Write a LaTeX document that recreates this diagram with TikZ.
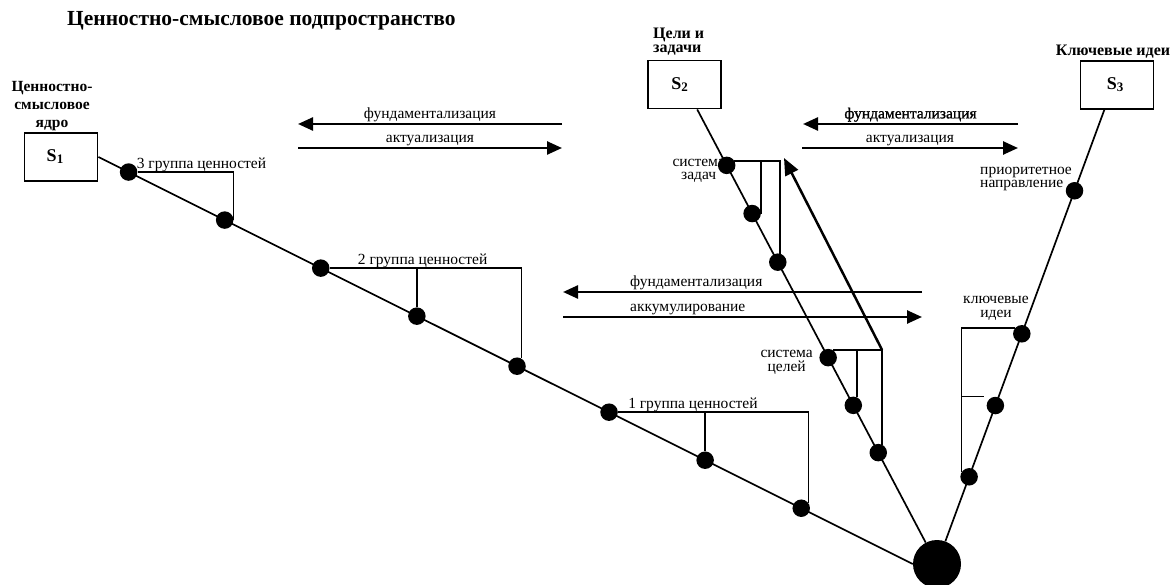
\documentclass[tikz,border=0pt]{standalone}
\usepackage{fontspec}
\setmainfont{Liberation Serif}
\newfontfamily\thickserif[FakeBold=1.2]{Liberation Serif}
\usetikzlibrary{calc, arrows.meta}

\newcommand{\sidx}[1]{\raisebox{-2pt}{\fontsize{13}{13}\selectfont #1}}

\tikzset{
  vdot/.style={circle, fill=black, inner sep=0pt, minimum size=17.5pt},
  hub/.style={circle, fill=black, inner sep=0pt, minimum size=48pt},
  sbox/.style={draw, line width=1.9pt, minimum width=73pt, minimum height=48pt, inner sep=0pt, font=\bfseries\fontsize{18}{18}\selectfont},
  lbl/.style={inner sep=0pt, font=\fontsize{15.5}{13.5}\selectfont},
  capt/.style={inner sep=0pt, align=center, font=\bfseries\fontsize{15.5}{18}\selectfont},
  mainline/.style={line width=1.7pt},
  flow/.style={line width=2.5pt, -{Triangle[length=15pt, width=13pt]}},
}

\begin{document}
\begin{tikzpicture}[x=1pt, y=-1pt]
    % --- Frame (pixel grid, y down) ---
    \fill[white] (0,0) rectangle (1173,585);
    \useasboundingbox (0,0) rectangle (1173,585);

    % --- Boxes and hub ---
    \node[sbox] (s1) at (61,157) {S\sidx{1}\kern12pt};
    \node[sbox] (s2) at (684.5,84.5) {S\sidx{2}\kern10pt};
    \node[sbox] (s3) at (1117,85) {S\sidx{3}\kern4pt};
    \node[hub] (hub) at (937,564) {};

    % --- Captions ---
    \node[anchor=west, inner sep=0pt, font=\bfseries\fontsize{21.5}{21.5}\selectfont] (title) at (67,21) {Ценностно-смысловое подпространство};
    \node[capt] (c1) at (52,106) {Ценностно-\\смысловое\\ядро};
    \node[capt, align=left, anchor=west, font=\bfseries\fontsize{16}{14}\selectfont] (c2) at (653,42) {Цели и\\задачи};
    \node[capt, font=\bfseries\fontsize{16}{16}\selectfont] (c3) at (1113,52) {Ключевые идеи};

    % --- Branch 1: S1 to hub ---
    \draw[mainline] (s1.east) -- (hub.west);
    \node[vdot] (a1) at ($(s1.east)!.037!(hub.west)$) {};
    \node[vdot] (a2) at ($(s1.east)!.155!(hub.west)$) {};
    \node[vdot] (a3) at ($(s1.east)!.273!(hub.west)$) {};
    \node[vdot] (a4) at ($(s1.east)!.391!(hub.west)$) {};
    \node[vdot] (a5) at ($(s1.east)!.514!(hub.west)$) {};
    \node[vdot] (a6) at ($(s1.east)!.627!(hub.west)$) {};
    \node[vdot] (a7) at ($(s1.east)!.745!(hub.west)$) {};
    \node[vdot] (a8) at ($(s1.east)!.863!(hub.west)$) {};

    % value groups
    \draw[mainline] (a1) -| (a2.east);
    \draw[mainline] (a3) -| (a5.60);
    \draw[mainline] (a4.north |- a3) -- (a4.north);
    \draw[mainline] (a6) -| (a8.35);
    \draw[mainline] (a7.north |- a6) -- (a7.north);

    \node[lbl, anchor=base west] (v3) at ($(a1)+(8,-4)$) {3 группа ценностей};
    \node[lbl, anchor=base west] (v2) at ($(a3)+(37,-4)$) {2 группа ценностей};
    \node[lbl, anchor=base west] (v1) at ($(a6)+(19,-4)$) {1 группа ценностей};

    % --- Branch 2: S2 to hub ---
    \draw[mainline] (s2.-63) -- (hub);
    \node[vdot] (b1) at ($(s2.-63)!.123!(hub)$) {};
    \node[vdot] (b2) at ($(s2.-63)!.229!(hub)$) {};
    \node[vdot] (b3) at ($(s2.-63)!.336!(hub)$) {};
    \node[vdot] (b4) at ($(s2.-63)!.546!(hub)$) {};
    \node[vdot] (b5) at ($(s2.-63)!.651!(hub)$) {};
    \node[vdot] (b6) at ($(s2.-63)!.755!(hub)$) {};

    \draw[mainline] (b1.30) -| (b3.75);
    \draw[mainline] (b2.east |- b1.30) -- (b2.east);
    \coordinate (bk) at (b4.60 -| b6.65);
    \coordinate (tip) at (784,158);
    \draw[mainline] (b4.60) -- (bk) -- (b6.65);
    \draw[mainline] (b5.65 |- bk) -- (b5.65);
    \draw[flow, -{Triangle[length=17pt, width=14pt]}] (bk) -- (tip);

    \node[lbl, align=center, anchor=east] (t1) at (725,171) {система\\задач};
    \node[lbl, align=center, anchor=east] (t2) at (813,362.5) {система\\целей};

    % --- Branch 3: S3 to hub ---
    \draw[mainline] (s3.-117) -- (hub);
    \node[vdot] (g1) at ($(s3.-117)!.178!(hub)$) {};
    \node[vdot] (g2) at ($(s3.-117)!.493!(hub)$) {};
    \node[vdot] (g3) at ($(s3.-117)!.651!(hub)$) {};
    \node[vdot] (g4) at ($(s3.-117)!.808!(hub)$) {};

    \draw[mainline] (g2.140) -| (g4.150);
    \draw[mainline] (g4.150 |- g3.north) -- ($(g3.north)+(-11,0)$);

    \node[lbl, align=left, anchor=west] (k1) at (980,179) {приоритетное\\направление};
    \node[lbl, align=center] (k2) at (996,308.5) {ключевые\\идеи};

    % --- Flow arrows ---
    \coordinate (p1l) at (298,124);  \coordinate (p1r) at (562,124);
    \coordinate (q1l) at (298,148);  \coordinate (q1r) at (562,148);
    \coordinate (p2l) at (803,124);  \coordinate (p2r) at (1018,124);
    \coordinate (q2l) at (802,148);  \coordinate (q2r) at (1018,148);
    \coordinate (p3l) at (563,292);  \coordinate (p3r) at (922,292);
    \coordinate (q3l) at (563,317);  \coordinate (q3r) at (922,317);

    \draw[flow] (p1r) -- (p1l) node[lbl, midway, above=1pt] {фундаментализация};
    \draw[flow] (q1l) -- (q1r) node[lbl, midway, above=1pt] {актуализация};
    \draw[flow] (p2r) -- (p2l) node[lbl, midway, above=1pt] {\thickserif фундаментализация};
    \draw[flow] (q2l) -- (q2r) node[lbl, midway, above=1pt] {актуализация};
    \draw[flow] (p3r) -- (p3l);
    \draw[flow] (q3l) -- (q3r);
    \node[lbl, anchor=base west] (f3) at ($(p3l)+(67,-5)$) {фундаментализация};
    \node[lbl, anchor=base west] (f4) at ($(q3l)+(67,-5)$) {аккумулирование};

\end{tikzpicture}
\end{document}
